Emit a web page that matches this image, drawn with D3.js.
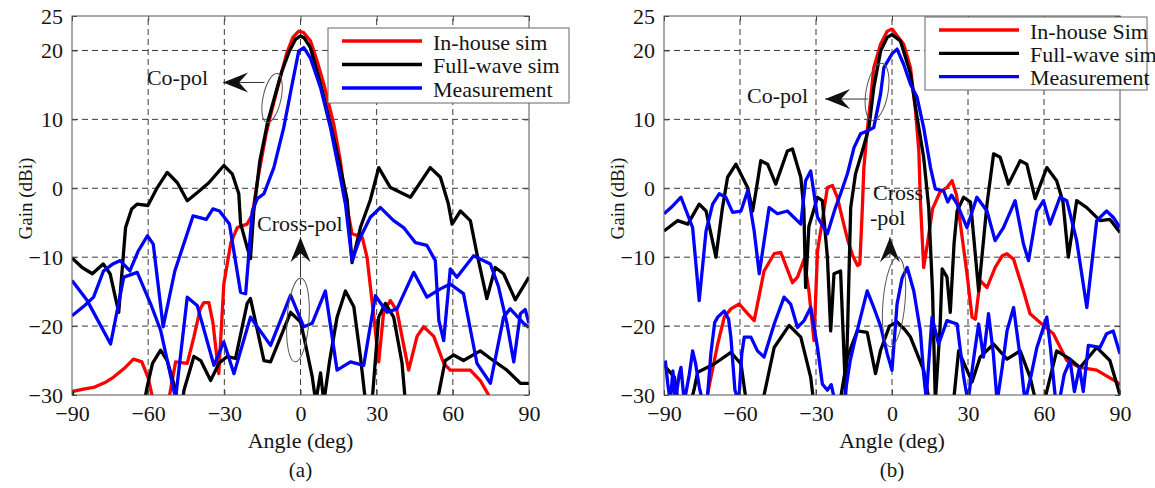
<!DOCTYPE html>
<html><head><meta charset="utf-8">
<script src="https://cdn.jsdelivr.net/npm/d3@7"></script>
<style>
body{margin:0;background:#fff}
svg text{font-family:"Liberation Serif","Times New Roman",serif;fill:#151515}
</style></head><body>
<svg id="chart" width="1155" height="488"></svg>
<script>
// Axis ticks shared by both panels
const angleTicks = [-90, -60, -30, 0, 30, 60, 90];
const gainTicks = [25, 20, 10, 0, -10, -20, -30];
const legendA = ["In-house sim", "Full-wave sim", "Measurement"];
const legendB = ["In-house Sim", "Full-wave sim", "Measurement"];
const seriesColors = ["#ff0000", "#000000", "#0000ff"];

// Panel (a): [angle (deg), gain (dBi)]
const coInhouseA = [[-90,-29.5],[-85,-29.1],[-81.5,-28.9],[-77,-28.2],[-73.6,-27.4],[-69,-26],[-65.8,-24.8],[-62.5,-25.2],[-60,-27.5],[-58.5,-30],[-57,-33],[-53,-33],[-51.8,-30.5],[-49.2,-25.2],[-44.6,-25.4],[-42,-21.6],[-39.5,-17.5],[-38.1,-16.6],[-36.1,-16.6],[-34.5,-19.5],[-32.2,-26.9],[-30.2,-13.9],[-27.5,-8],[-24.9,-5.7],[-21,-5.2],[-19,-3.8],[-16.5,2],[-13.5,8],[-10.5,12.5],[-8,16],[-5.5,19.5],[-3,21.9],[-0.7,22.8],[1.2,22.6],[3.9,21.4],[6.5,18.5],[9.2,15.1],[13.1,9.3],[15.7,4],[17.7,-1.8],[19.5,-5],[20.3,-6.6],[24.3,-7.1],[26.2,-10],[28.9,-18.7],[30.8,-25.2],[32.8,-17.8],[35.4,-16.3],[38,-17.8],[40.5,-22.5],[42.6,-26.4],[45.9,-21.5],[48.5,-20.1],[52.5,-21.5],[56.4,-25.4],[59,-26.4],[66.9,-26.4],[70.8,-27.9],[74.1,-30],[76,-33]];
const coFullwaveA = [[-90,-10.1],[-86,-11.5],[-82,-12.4],[-77.7,-11],[-75,-12.4],[-71.6,-18],[-68.9,-5.7],[-66.5,-3],[-64.3,-2.3],[-60.1,-2.5],[-56.4,0.1],[-52.5,2.3],[-48.5,0.8],[-44.6,-1.8],[-40.6,-0.6],[-36.1,0.8],[-30.2,3.3],[-26.9,2.1],[-24.3,-0.8],[-23.6,-5.1],[-21,-8.6],[-19.7,-10.2],[-18.4,-3.3],[-16,4],[-13,9.5],[-10,13.5],[-7.5,16.8],[-4.5,19.8],[-2,21.6],[0,22.1],[1.5,21.8],[3.9,20.4],[7.9,15.1],[11.8,9.3],[15.7,3],[18.4,-1.7],[20.3,-10.8],[23.6,-5.7],[27.5,-1.7],[30.8,3],[35.4,0.1],[43.3,-1.3],[51.1,3],[55.1,1.6],[58.2,-2.2],[59.7,-5.2],[63,-3.3],[66.9,-4.7],[69.5,-9.5],[73.4,-16],[76.7,-11.5],[80,-12.4],[84.6,-16.2],[90,-12.9]];
const coMeasA = [[-90,-18.5],[-85,-17],[-81.5,-15.8],[-77.6,-12],[-74,-11],[-71,-10.5],[-67.2,-12],[-63.9,-9.1],[-60.3,-6.9],[-58,-8.1],[-54.1,-20.1],[-49.5,-12],[-42.3,-4],[-37.1,-4.5],[-34.5,-3],[-31.9,-3.3],[-28,-5.2],[-23.6,-15.1],[-21.6,-15.3],[-19,-3.3],[-17,-1.5],[-14.4,-0.8],[-10.5,3],[-6.6,8.8],[-3.3,15.1],[-0.7,19.9],[1.3,20.4],[3.9,18.9],[7.9,14.6],[11.8,8.8],[15.7,1.6],[17.7,-2.3],[20.3,-10.5],[23.6,-7.1],[27.5,-4.2],[31.5,-2.8],[36.7,-4.7],[40.6,-5.7],[45.3,-7.9],[49.8,-8.3],[53.1,-10.5],[54.5,-19.2],[56.4,-22.1],[59,-11.7],[61.6,-12.9],[68.2,-9.8],[74.8,-11],[78,-14.3],[81.3,-19.6],[84,-25.2],[86.6,-18.2],[88.5,-17.6],[90,-19.6]];
const xFullwaveA = [[-90,-29.5],[-88.5,-32],[-62,-32],[-60.5,-29],[-58.3,-25.4],[-55.1,-23.5],[-52.5,-25],[-49.2,-29.3],[-48,-32],[-46.5,-31],[-45.9,-29.3],[-42,-24.4],[-39.3,-25],[-35.4,-27.9],[-32.1,-25.4],[-28.9,-24.4],[-25.6,-24.7],[-21,-16.7],[-19.7,-16],[-14.4,-25],[-11.8,-25.2],[-3.9,-18],[0,-19.4],[1.3,-21.5],[4.6,-27.3],[6,-31],[7.9,-26.8],[9.2,-31],[11.5,-25],[14.4,-18.7],[17.7,-14.9],[21,-17.2],[23.6,-24.4],[25.6,-31],[28.2,-31],[30.8,-18.7],[33.4,-16.7],[36.7,-18.7],[40,-25.4],[41.3,-31],[53.8,-31],[57,-25],[60.3,-24.2],[64.2,-25],[70.8,-23.6],[74.8,-24.7],[81.3,-26.4],[86.6,-28.3],[90,-28.3]];
const xMeasA = [[-90,-13.4],[-84,-16.3],[-74.8,-22.6],[-69.6,-12.9],[-64.3,-12.2],[-59,-16.8],[-55.1,-20.6],[-49.2,-30.5],[-44.6,-15.8],[-40.7,-17],[-34.1,-25.7],[-30.2,-22.3],[-26.2,-26.9],[-19.7,-18.7],[-11.8,-22.8],[-3.9,-15.5],[1.3,-20.1],[4.6,-19.6],[9.8,-14.9],[14.4,-26.4],[19.7,-25.2],[24.9,-25.7],[29.5,-15.6],[34.1,-18],[38,-17.5],[44.6,-12.2],[49.8,-15.8],[55.1,-14.6],[59,-13.9],[64.2,-15.3],[69.5,-25.4],[74.8,-28.3],[80,-18.7],[82.6,-17.5],[87.9,-19.6],[90,-20.2]];

// Panel (b): [angle (deg), gain (dBi)]
const coInhouseB = [[-76,-33],[-72.9,-30],[-68.8,-22.6],[-66.2,-18.7],[-63.6,-17.5],[-60.3,-16.8],[-57,-18.2],[-54.4,-19.2],[-50.5,-12],[-46.5,-9.5],[-43.9,-9.3],[-39.3,-13.7],[-37.3,-12.9],[-34.7,-10.3],[-32.8,-14.9],[-30.8,-22.1],[-29.4,-9.1],[-27.5,-4.7],[-25.5,0.1],[-23.5,0.4],[-21.6,-1.3],[-19.5,-4.5],[-17.5,-7.5],[-15.5,-9.8],[-13.6,-11.2],[-12.7,-11],[-11.7,-2.8],[-11.1,3],[-9.8,8.3],[-8.5,12.7],[-7.2,17.5],[-4.5,20.9],[-1.9,22.8],[0,23.1],[0.7,22.8],[4.6,20.9],[7.3,17.5],[9.3,11.2],[10.6,5.4],[11.2,-1.8],[12.5,-11.5],[14,-8],[16,-3],[19,-0.5],[21.7,0.1],[23.7,1.1],[25.5,-1],[27,-5.2],[29.6,-12.4],[31.6,-18.7],[32.9,-19],[34.8,-13.4],[37.5,-14.4],[40.7,-11.5],[43.5,-9.8],[45.4,-9.5],[48,-10.3],[51.9,-14.9],[54.5,-18.2],[59.8,-19.9],[63.7,-21.1],[69,-25],[74.2,-26],[80.8,-26.4],[88.7,-28.1],[90,-28.5]];
const coFullwaveB = [[-90,-6.2],[-84.6,-4.7],[-80.6,-5.2],[-76.1,-2.3],[-73.4,-3.3],[-69.5,-10],[-67,-3],[-64.9,1.6],[-61.6,3.5],[-57,0.1],[-55,-3.3],[-53.5,0],[-51.8,4],[-49.1,3.5],[-45.9,0.6],[-41.3,5.4],[-39.3,5.7],[-36,1.6],[-34.8,-3],[-34.1,-14.4],[-32.8,-5.5],[-29.4,-1.3],[-27.5,-1.8],[-25.5,-10],[-24.2,-20.7],[-22.9,-12.4],[-20.3,-12],[-18.3,-30],[-17.5,-20],[-16.3,-2.8],[-14.4,2.1],[-11.7,5.4],[-9.1,8.8],[-7.2,14.6],[-4.5,19.9],[-1.9,21.9],[0,22.3],[3.3,21.4],[7.3,16.6],[9.9,10.3],[12.5,4.5],[14.5,-2.8],[16,-15],[17.1,-31],[19,-20],[19.8,-11.7],[21.7,-12.9],[23,-18],[24.5,-8],[25.7,-3.3],[28.3,-1.3],[31,-2],[34.2,-14.9],[37.5,-2.3],[40.1,5],[42.7,4.5],[46,0.6],[50.6,4],[53.2,3.5],[56.5,-1.5],[61.1,3],[65,1.1],[67.5,-2],[69.6,-10],[72.9,-1.8],[76.9,-2.8],[82.1,-4.7],[86,-4.5],[90,-6.4]];
const coMeasB = [[-90,-3.7],[-87.2,-2.8],[-83.3,-1.3],[-78.7,-5.7],[-76.1,-16.3],[-73.4,-6.2],[-70.8,-2.3],[-68.2,-0.8],[-65.6,-1.3],[-62.9,-3.5],[-59.6,-3.3],[-57,-0.4],[-54.4,-6.2],[-52.4,-12.4],[-48.5,-2.8],[-45.2,-3.7],[-41.3,-3.3],[-36,-5.2],[-34.1,1.1],[-32.1,2.5],[-29.4,-4.2],[-25.5,-6.6],[-22.5,-3],[-20.3,-0.8],[-17.6,2.1],[-15,5.9],[-12.4,7.9],[-9.8,8.3],[-7.2,8.8],[-4.5,13.7],[-3.2,17.5],[0,19.5],[2,20.2],[4.6,18],[7.3,15.1],[9.9,13.2],[12.5,8.8],[15.2,3],[17.1,-0.1],[20.4,-0.4],[22,-2],[23.5,-1],[25.7,-2.3],[29.6,-5.7],[33.5,-1.3],[37.5,-3.3],[40.7,-7.6],[44,-5.7],[48.6,-1.8],[51.9,-8.1],[53.9,-10.5],[57.2,-3.3],[59.8,-1.8],[62.4,-5.2],[66.3,-1.3],[69,-1.8],[72.9,-7.6],[76.9,-17.3],[80.8,-4.7],[84.7,-3.3],[87.3,-4.2],[90,-5.7]];
const xFullwaveB = [[-90,-25.7],[-85.9,-27.4],[-84.6,-30.5],[-80,-32],[-78,-29],[-76.7,-26.7],[-70.2,-25.5],[-63.6,-23.8],[-59.6,-25.5],[-57.7,-30.5],[-52,-32],[-50.5,-30],[-46.5,-23.1],[-40.6,-19.9],[-36,-21.6],[-32.1,-27.4],[-31.1,-30.5],[-22,-32],[-20.3,-30.5],[-17.6,-24.5],[-13.7,-20.7],[-9.8,-20.9],[-6.5,-26.9],[-4.5,-23.5],[-1,-20],[2,-19.4],[5,-20.5],[7.3,-21.6],[12.5,-26.4],[14.5,-30.5],[24,-32],[26.3,-23.6],[31.6,-28.1],[34.8,-24.5],[40.1,-22.6],[45.4,-24.8],[50.6,-23.6],[54.5,-27.4],[56.5,-30.5],[59,-32],[60.4,-30.5],[65,-23.6],[70.3,-24.8],[74.2,-26],[80.8,-23.1],[86,-25],[90,-30]];
const xMeasB = [[-89.5,-25],[-88.5,-28.4],[-87.5,-31],[-86.5,-26.5],[-85.5,-31],[-84,-27],[-83.3,-26],[-82,-31],[-80,-27],[-78.7,-23.6],[-77.5,-25.5],[-76,-29],[-74.7,-31],[-73,-31],[-71.5,-24],[-70,-19.5],[-68.8,-18.7],[-66.2,-17.8],[-64.5,-19],[-63.6,-21.6],[-62,-29.3],[-60.5,-31],[-59.3,-24],[-58.3,-21.6],[-55.7,-21.6],[-53.1,-23.6],[-50.5,-24.5],[-46.5,-19.7],[-42.6,-15.8],[-40,-16.8],[-37.3,-20.2],[-34.7,-19.2],[-32.1,-17.3],[-29.4,-23.1],[-27.5,-28.4],[-25.5,-29.3],[-24,-28.5],[-22.5,-31],[-19,-31],[-16.5,-25],[-15,-22.6],[-12.4,-18.7],[-9.8,-14.9],[-7.2,-17.3],[-4.5,-20],[-1.9,-24],[0,-26.4],[2,-16.8],[4,-13],[6,-11.5],[8.6,-14.9],[11.2,-20.7],[12.5,-27],[13.5,-30.5],[15.8,-18.7],[18.4,-22.6],[21.7,-19.2],[25.7,-19.7],[28.3,-27.4],[30,-31],[32.5,-24],[34.2,-19.7],[36.1,-24.5],[38.1,-18.2],[40,-24],[41.5,-31],[43.5,-26],[45.4,-20.7],[48,-17.3],[50.6,-24.5],[52.5,-31],[55,-27],[57.2,-23.1],[61.1,-18.7],[62.5,-23],[64.5,-30.5],[66,-31],[68,-27],[70.3,-25],[72,-29.5],[74,-26],[75.5,-29.5],[77.5,-22.8],[82.1,-23.1],[84.7,-21.1],[87.3,-20.7],[90,-24]];

const svg = d3.select("#chart");
const serif = '"Liberation Serif","Times New Roman",serif';

// barbed arrowhead pointing along +x from the origin (tip at 0,0)
function arrowHead(len, half, notch) {
  return `M0,0L${len},${-half}L${len - notch},0L${len},${half}Z`;
}

function drawPanel(cfg) {
  const x = d3.scaleLinear().domain([-90, 90]).range([cfg.left, cfg.right]);
  const y = d3.scaleLinear().domain([-30, 25]).range([cfg.bottom, cfg.top]);
  const g = svg.append("g");

  // dashed grid
  const grid = g.append("g").attr("stroke", "#3a3a3a").attr("stroke-width", 1)
    .attr("stroke-dasharray", "6,4");
  grid.selectAll("line.v").data(angleTicks.slice(1, -1)).join("line").attr("class", "v")
    .attr("x1", d => x(d)).attr("x2", d => x(d)).attr("y1", y(-30)).attr("y2", y(25));
  grid.selectAll("line.h").data(gainTicks.slice(1, -1)).join("line").attr("class", "h")
    .attr("y1", d => y(d)).attr("y2", d => y(d)).attr("x1", x(-90)).attr("x2", x(90));

  // curves, clipped to the axes box
  g.append("clipPath").attr("id", "clip" + cfg.id).append("rect")
    .attr("x", x(-90)).attr("y", y(25)).attr("width", x(90) - x(-90)).attr("height", y(-30) - y(25));
  const line = d3.line().x(d => x(d[0])).y(d => y(d[1]));
  const curves = g.append("g").attr("clip-path", `url(#clip${cfg.id})`)
    .attr("fill", "none").attr("stroke-width", 3.3).attr("stroke-linejoin", "round");
  cfg.series.forEach(s => {
    curves.append("path").datum(s.data).attr("stroke", seriesColors[s.color]).attr("d", line);
  });

  // axes: labels on bottom/left, inward ticks on all sides
  const bottom = g.append("g").attr("transform", `translate(0,${y(-30)})`)
    .call(d3.axisBottom(x).tickValues(angleTicks).tickSizeInner(-5).tickSizeOuter(0).tickPadding(10));
  const left = g.append("g").attr("transform", `translate(${x(-90)},0)`)
    .call(d3.axisLeft(y).tickValues(gainTicks).tickSizeInner(-5).tickSizeOuter(0).tickPadding(9));
  g.append("g").attr("transform", `translate(0,${y(25)})`)
    .call(d3.axisTop(x).tickValues(angleTicks).tickSizeInner(-5).tickSizeOuter(0).tickFormat(""));
  g.append("g").attr("transform", `translate(${x(90)},0)`)
    .call(d3.axisRight(y).tickValues(gainTicks).tickSizeInner(-5).tickSizeOuter(0).tickFormat(""));
  g.selectAll(".domain").remove();
  g.selectAll(".tick line").attr("stroke", "#444");
  [bottom, left].forEach(a => {
    a.attr("font-family", serif);
    a.selectAll("text").style("font-family", serif).style("font-size", "22px").attr("fill", "#151515");
  });

  g.append("rect").attr("x", x(-90)).attr("y", y(25))
    .attr("width", x(90) - x(-90)).attr("height", y(-30) - y(25))
    .attr("fill", "none").attr("stroke", "#555").attr("stroke-width", 1);

  // axis titles and panel tag
  const cx = (x(-90) + x(90)) / 2;
  g.append("text").attr("x", cx).attr("y", 448).attr("text-anchor", "middle")
    .style("font-size", "22px").text("Angle (deg)");
  g.append("text").attr("x", cx).attr("y", 477).attr("text-anchor", "middle")
    .style("font-size", "21px").text(cfg.tag);
  g.append("text").attr("transform", `translate(${cfg.ylabelX},${(y(25) + y(-30)) / 2 - 7}) rotate(-90)`)
    .attr("text-anchor", "middle").attr("dy", "0.35em").style("font-size", "19px").text("Gain (dBi)");

  // legend
  const L = cfg.legend;
  const lg = g.append("g");
  lg.append("rect").attr("x", L.x).attr("y", L.y).attr("width", L.w).attr("height", L.h)
    .attr("fill", "#fff").attr("stroke", "#666").attr("stroke-width", 1);
  L.names.forEach((name, i) => {
    const ly = L.y + L.first + i * L.step;
    lg.append("line").attr("x1", L.x + 14).attr("x2", L.x + 94).attr("y1", ly).attr("y2", ly)
      .attr("stroke", seriesColors[i]).attr("stroke-width", 3.3);
    lg.append("text").attr("x", L.x + 105).attr("y", ly + 8.5).style("font-size", "22px").text(name);
  });

  // annotations
  const an = g.append("g");
  cfg.notes.forEach(n => {
    if (n.type === "text") {
      an.append("text").attr("x", x(n.a)).attr("y", y(n.g)).style("font-size", "22px").text(n.text);
    } else if (n.type === "ellipse") {
      an.append("ellipse").attr("cx", 0).attr("cy", 0).attr("rx", n.rx).attr("ry", n.ry)
        .attr("transform", `translate(${x(n.a)},${y(n.g)}) rotate(${n.rot})`)
        .attr("fill", "none").attr("stroke", "#555").attr("stroke-width", 1);
    } else if (n.type === "arrow") {
      const x1 = x(n.a1), y1 = y(n.g1), x2 = x(n.a2), y2 = y(n.g2);
      an.append("line").attr("x1", x1).attr("y1", y1).attr("x2", x2).attr("y2", y2)
        .attr("stroke", "#333").attr("stroke-width", 1);
      const ang = Math.atan2(y1 - y2, x1 - x2) * 180 / Math.PI;
      an.append("path").attr("d", arrowHead(25, 10, 9))
        .attr("transform", `translate(${x2},${y2}) rotate(${ang})`).attr("fill", "#111");
    }
  });
}

drawPanel({
  id: "a", tag: "(a)", left: 72, right: 529, top: 16, bottom: 395, ylabelX: 25,
  series: [
    {data: coInhouseA, color: 0}, {data: coFullwaveA, color: 1}, {data: coMeasA, color: 2},
    {data: xFullwaveA, color: 1}, {data: xMeasA, color: 2}
  ],
  legend: {x: 328, y: 28, w: 241, h: 75, first: 13, step: 23.5, names: legendA},
  notes: [
    {type: "text", a: -60.5, g: 15.0, text: "Co-pol"},
    {type: "arrow", a1: -14.2, g1: 15.35, a2: -30.5, g2: 15.35},
    {type: "ellipse", a: -11.2, g: 13.1, rx: 9, ry: 25, rot: 12},
    {type: "text", a: -17.1, g: -6.2, text: "Cross-pol"},
    {type: "arrow", a1: 0, g1: -12.9, a2: 0, g2: -7.1},
    {type: "ellipse", a: -1, g: -19.1, rx: 11, ry: 42, rot: 4}
  ]
});

drawPanel({
  id: "b", tag: "(b)", left: 664, right: 1120, top: 16, bottom: 395, ylabelX: 617,
  series: [
    {data: coInhouseB, color: 0}, {data: coFullwaveB, color: 1}, {data: coMeasB, color: 2},
    {data: xFullwaveB, color: 1}, {data: xMeasB, color: 2}
  ],
  legend: {x: 925, y: 17, w: 222, h: 73, first: 13, step: 23.3, names: legendB},
  notes: [
    {type: "text", a: -57.2, g: 12.4, text: "Co-pol"},
    {type: "arrow", a1: -9.5, g1: 12.95, a2: -26.4, g2: 12.95},
    {type: "ellipse", a: -5.9, g: 14.0, rx: 11, ry: 29, rot: 10},
    {type: "text", a: -7.5, g: -1.7, text: "Cross"},
    {type: "text", a: -8.7, g: -5.3, text: "-pol"},
    {type: "arrow", a1: -0.8, g1: -10, a2: -0.8, g2: -7.1},
    {type: "ellipse", a: 0.8, g: -16.5, rx: 11, ry: 45, rot: 5}
  ]
});
</script>
</body></html>
